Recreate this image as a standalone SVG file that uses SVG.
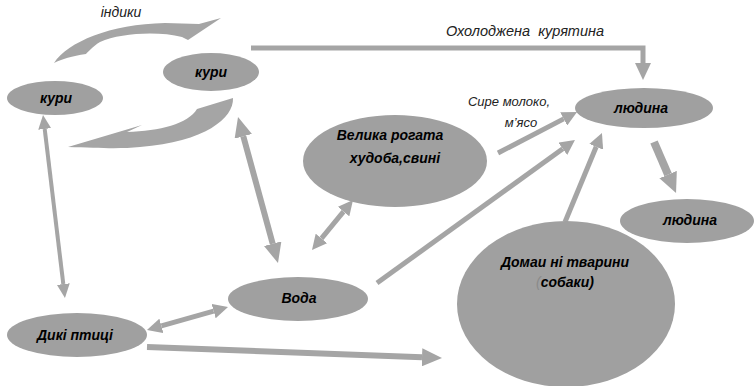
<svg xmlns="http://www.w3.org/2000/svg" width="754" height="386" viewBox="0 0 754 386">
<style>
.node{fill:#a0a0a0}
.lbl{font-family:"Liberation Sans",Arial,sans-serif;font-size:14px;font-weight:bold;font-style:italic;fill:#000;text-anchor:middle}
.note{font-family:"Liberation Sans",Arial,sans-serif;font-size:13px;font-style:italic;fill:#222;text-anchor:middle}
.c{fill:none;stroke:#a5a5a5}
.blk{fill:#a5a5a5}
</style>
<defs>
<marker id="mA" viewBox="0 0 10 10" refX="0" refY="5" markerUnits="userSpaceOnUse" markerWidth="14" markerHeight="13" orient="auto-start-reverse" preserveAspectRatio="none"><path d="M0,0L10,5L0,10z" fill="#a5a5a5"/></marker>
<marker id="mB" viewBox="0 0 10 10" refX="0" refY="5" markerUnits="userSpaceOnUse" markerWidth="20" markerHeight="18" orient="auto-start-reverse" preserveAspectRatio="none"><path d="M0,0L10,5L0,10z" fill="#a5a5a5"/></marker>
<marker id="mC" viewBox="0 0 10 10" refX="0" refY="5" markerUnits="userSpaceOnUse" markerWidth="15" markerHeight="15" orient="auto-start-reverse" preserveAspectRatio="none"><path d="M0,0L10,5L0,10z" fill="#a5a5a5"/></marker>
<marker id="mD" viewBox="0 0 10 10" refX="0" refY="5" markerUnits="userSpaceOnUse" markerWidth="20" markerHeight="19" orient="auto-start-reverse" preserveAspectRatio="none"><path d="M0,0L10,5L0,10z" fill="#a5a5a5"/></marker>
<marker id="mE" viewBox="0 0 10 10" refX="0" refY="5" markerUnits="userSpaceOnUse" markerWidth="17" markerHeight="16" orient="auto" preserveAspectRatio="none"><path d="M0,0L10,5L0,10z" fill="#a5a5a5"/></marker>
</defs>
<rect width="754" height="386" fill="#fff"/>

<g id="connectors">
  <path class="blk" d="M54,63 C68,42 110,24 165,23 L199,24 L221,18 L188,40 L182,37 C158,31 120,33 100,42 C92,47 88,52 86,54 C72,56 62,59 54,63 Z"/>
  <path class="blk" d="M233,98 C234,118 205,142 140,147 C120,149 100,148 68,147 L142,125 L127,132 C160,131 188,124 197,109 Z"/>
  <line class="c" x1="44.7" y1="128.9" x2="63.3" y2="284.1" stroke-width="4" marker-start="url(#mA)" marker-end="url(#mA)"/>
  <line class="c" x1="243.3" y1="136.3" x2="272.7" y2="243.7" stroke-width="6" marker-start="url(#mB)" marker-end="url(#mB)"/>
  <line class="c" x1="343.5" y1="211.6" x2="321.5" y2="238.4" stroke-width="5" marker-start="url(#mC)" marker-end="url(#mC)"/>
  <line class="c" x1="161.4" y1="325.9" x2="213.6" y2="311.1" stroke-width="5" marker-start="url(#mC)" marker-end="url(#mC)"/>
  <line class="c" x1="147" y1="347" x2="422" y2="357.3" stroke-width="6" marker-end="url(#mB)"/>
  <line class="c" x1="498" y1="153" x2="563.7" y2="118.9" stroke-width="5" marker-end="url(#mC)"/>
  <line class="c" x1="377" y1="283" x2="562.8" y2="148.8" stroke-width="5" marker-end="url(#mC)"/>
  <line class="c" x1="565" y1="222" x2="596.2" y2="146.8" stroke-width="5" marker-end="url(#mC)"/>
  <line class="c" x1="654" y1="142" x2="668.1" y2="174.6" stroke-width="8" marker-end="url(#mD)"/>
  <polyline class="c" points="251,48 643,48 643,63" stroke-width="5" marker-end="url(#mE)"/>
  <text class="note" x="121" y="17" style="font-size:14px">індики</text>
  <text class="note" x="525" y="36" style="font-size:14.5px" xml:space="preserve">Охолоджена  курятина</text>
  <text class="note" x="509" y="106">Сире молоко,</text>
  <text class="note" x="521" y="127">м’ясо</text>
</g>

<g id="kury-left"><ellipse class="node" cx="55" cy="98" rx="48" ry="17"/><text class="lbl" x="56" y="103">кури</text></g>
<g id="kury-top"><ellipse class="node" cx="211" cy="72" rx="48" ry="19"/><text class="lbl" x="211" y="77">кури</text></g>
<g id="velyka"><ellipse class="node" cx="395" cy="161" rx="92" ry="46"/><text class="lbl" x="390" y="140">Велика рогата</text><text class="lbl" x="395" y="163">худоба,свині</text></g>
<g id="liudyna-top"><ellipse class="node" cx="644" cy="108" rx="69" ry="20"/><text class="lbl" x="641" y="113">людина</text></g>
<g id="liudyna-bottom"><ellipse class="node" cx="687" cy="221" rx="67" ry="22"/><text class="lbl" x="690" y="225">людина</text></g>
<g id="voda"><ellipse class="node" cx="298" cy="299" rx="70" ry="22"/><text class="lbl" x="299" y="303">Вода</text></g>
<g id="dyki"><ellipse class="node" cx="77" cy="335" rx="70" ry="22"/><text class="lbl" x="75" y="340">Дикі птиці</text></g>
<g id="domashni"><ellipse class="node" cx="566" cy="304" rx="109" ry="83"/><text class="lbl" x="565" y="267">Домаи ні тварини</text><text class="lbl" x="565" y="287"><tspan fill="#8a8a8a" font-weight="normal">(</tspan>собаки)</text></g>
</svg>
